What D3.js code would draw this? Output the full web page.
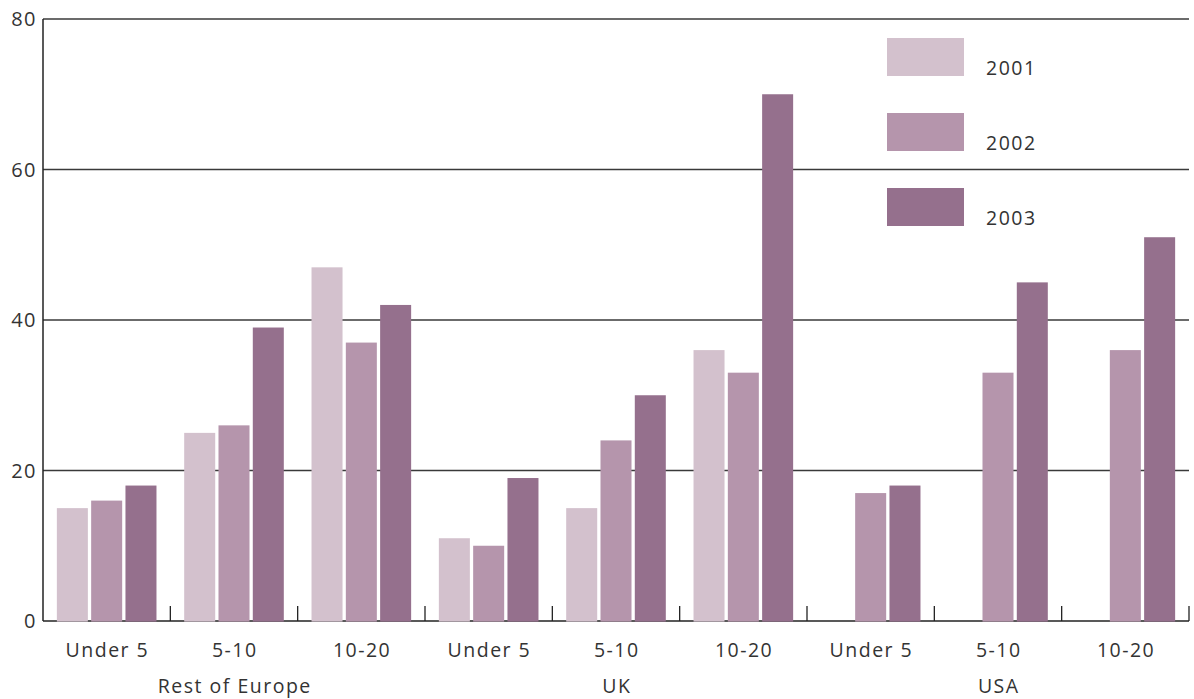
<!DOCTYPE html>
<html>
<head>
<meta charset="utf-8">
<script src="https://cdn.jsdelivr.net/npm/d3@7"></script>
<style>
  html, body { margin: 0; padding: 0; background: #ffffff; }
  svg text { font-family: "Open Sans", "DejaVu Sans", sans-serif; fill: #333333; letter-spacing: 1.5px; }
</style>
</head>
<body>
<svg id="chart" width="1194" height="699"></svg>
<script>
// Regions and size bands along the x axis
const regions = ["Rest of Europe", "UK", "USA"];
const sizeBands = ["Under 5", "5-10", "10-20"];
const years = ["2001", "2002", "2003"];

// Values per year, ordered region by region, band by band (null = no bar)
const values2001 = [15, 25, 47, 11, 15, 36, null, null, null];
const values2002 = [16, 26, 37, 10, 24, 33, 17, 33, 36];
const values2003 = [18, 39, 42, 19, 30, 70, 18, 45, 51];

const yTicks = [0, 20, 40, 60, 80];
const yearColors = ["#d3c1cd", "#b595ac", "#95708d"];

const svg = d3.select("#chart");
const margin = { left: 43, right: 1189, top: 19, bottom: 621 };

const cells = [];
regions.forEach(r => sizeBands.forEach(b => cells.push(r + "|" + b)));

const x = d3.scaleBand().domain(cells).range([margin.left, margin.right]).paddingInner(0).paddingOuter(0);
const xInner = d3.scaleBand().domain(years).range([0, x.bandwidth()]).paddingInner(0.096).paddingOuter(0.404);
const y = d3.scaleLinear().domain([0, 80]).range([margin.bottom, margin.top]);

// Horizontal gridlines
svg.append("g")
  .selectAll("line")
  .data(yTicks.filter(t => t > 0))
  .join("line")
  .attr("x1", margin.left)
  .attr("x2", margin.right)
  .attr("y1", d => y(d))
  .attr("y2", d => y(d))
  .attr("stroke", "#3a3a3a")
  .attr("stroke-width", 1.3);

// Baseline and band separators
const xAxis = svg.append("g");
xAxis.append("line")
  .attr("x1", margin.left).attr("x2", margin.right)
  .attr("y1", y(0)).attr("y2", y(0))
  .attr("stroke", "#222").attr("stroke-width", 1.5);
xAxis.selectAll("line.sep")
  .data(cells.slice(1).concat(["end"]))
  .join("line")
  .attr("class", "sep")
  .attr("x1", d => d === "end" ? margin.right : x(d))
  .attr("x2", d => d === "end" ? margin.right : x(d))
  .attr("y1", y(0))
  .attr("y2", y(0) - 15)
  .attr("stroke", "#222").attr("stroke-width", 1.3);

// Y axis line and labels
svg.append("line")
  .attr("x1", margin.left).attr("x2", margin.left)
  .attr("y1", margin.top).attr("y2", y(0))
  .attr("stroke", "#222").attr("stroke-width", 1.5);

svg.append("g")
  .selectAll("text")
  .data(yTicks)
  .join("text")
  .attr("x", 37)
  .attr("y", d => y(d) + 7)
  .attr("text-anchor", "end")
  .attr("font-size", 20)
  .text(d => d);

// Bars
const series = [values2001, values2002, values2003];
series.forEach((vals, si) => {
  svg.append("g")
    .selectAll("rect")
    .data(vals.map((v, i) => ({ cell: cells[i], v })).filter(d => d.v != null))
    .join("rect")
    .attr("x", d => x(d.cell) + xInner(years[si]))
    .attr("width", xInner.bandwidth())
    .attr("y", d => y(d.v))
    .attr("height", d => y(0) - y(d.v) + 0.6)
    .attr("fill", yearColors[si]);
});

// Size band labels
svg.append("g")
  .selectAll("text")
  .data(cells)
  .join("text")
  .attr("x", d => x(d) + x.bandwidth() / 2 + 0.75)
  .attr("y", 657)
  .attr("text-anchor", "middle")
  .attr("font-size", 19.5)
  .text(d => d.split("|")[1]);

// Region labels
svg.append("g")
  .selectAll("text")
  .data(regions)
  .join("text")
  .attr("x", r => x(r + "|" + sizeBands[1]) + x.bandwidth() / 2 + 0.75)
  .attr("y", 693)
  .attr("text-anchor", "middle")
  .attr("font-size", 19.5)
  .text(r => r);

// Legend
const legend = svg.append("g");
years.forEach((yr, i) => {
  const top = 38 + i * 75;
  legend.append("rect")
    .attr("x", 887).attr("y", top)
    .attr("width", 77).attr("height", 38)
    .attr("fill", yearColors[i]);
  legend.append("text")
    .attr("x", 986).attr("y", top + 37)
    .attr("font-size", 19.5)
    .text(yr);
});
</script>
</body>
</html>
